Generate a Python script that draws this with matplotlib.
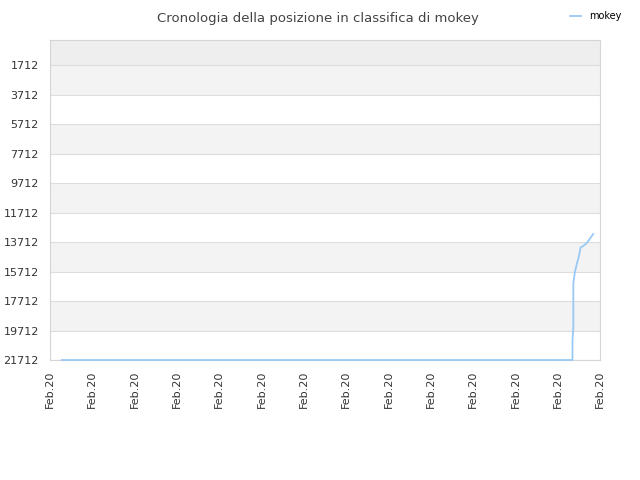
import matplotlib
matplotlib.use("Agg")
import matplotlib.pyplot as plt

# Ranking history (lower number = better position)
days = [0.28, 2.0, 4.0, 6.0, 8.0, 10.0, 12.0, 12.35, 12.35, 12.37, 12.37,
        12.41, 12.46, 12.50, 12.54, 12.59, 12.69, 12.84]
ranks = [21712, 21712, 21712, 21712, 21712, 21712, 21712, 21712, 20350, 19500, 16470,
         15700, 15110, 14690, 14090, 14000, 13770, 13160]

tick_pos = list(range(14))
tick_labels = ["Feb.20"] * 14
y_ticks = [1712 + 2000 * i for i in range(11)]

fig = plt.figure(figsize=(6.4, 4.8), dpi=100)
ax = fig.add_axes([50 / 640, 1 - 360 / 480, 550 / 640, 320 / 480])

# alternating background bands
ax.axhspan(0, 1712, color="#eeeeee", zorder=0, lw=0)
for i in range(len(y_ticks) - 1):
    if i % 2 == 0:
        ax.axhspan(y_ticks[i], y_ticks[i + 1], color="#f3f3f3", zorder=0, lw=0)

ax.plot(days, ranks, color="#99c9f5", lw=1.3, label="mokey", zorder=4, clip_on=False)

ax.set_xlim(0, 13)
ax.set_ylim(21712, 0)
ax.set_yticks(y_ticks)
ax.set_yticklabels([str(v) for v in y_ticks])
ax.set_xticks(tick_pos)
ax.set_xticklabels(tick_labels, rotation=90)
ax.tick_params(length=0, labelsize=8, colors="#333333", pad=8)
ax.grid(axis="y", color="#dddddd", lw=0.8, zorder=1)
for s in ax.spines.values():
    s.set_color("#d5d5d5")
    s.set_zorder(2)

fig.text(0.497, 0.975, "Cronologia della posizione in classifica di mokey",
         ha="center", va="top", fontsize=9.5, color="#444444")
fig.legend(loc="upper right", bbox_to_anchor=(0.985, 0.995), frameon=False,
           fontsize=7, handlelength=1.2)

fig.savefig("out.png", dpi=100)
